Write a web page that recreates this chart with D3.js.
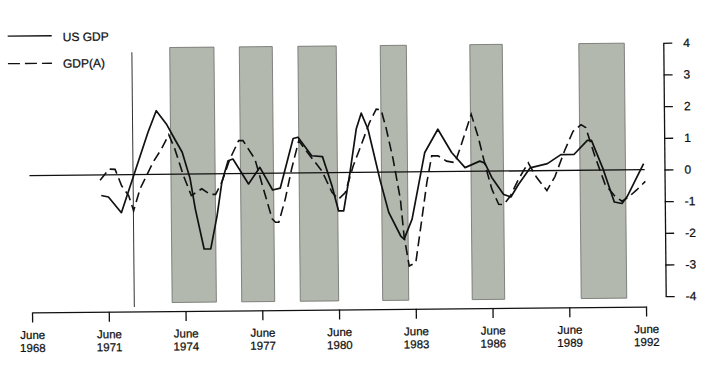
<!DOCTYPE html>
<html>
<head>
<meta charset="utf-8">
<script src="https://cdn.jsdelivr.net/npm/d3@7"></script>
<style>
    body { margin: 0; background: #fff; }
    svg { display: block; font-family: "Liberation Sans", Arial, Helvetica, sans-serif; }
    svg text { fill: #111; stroke: #111; stroke-width: 0.25px; }
</style>
</head>
<body>
<svg id="chart"></svg>
<script>
// Tick labels (June of each year) and value ticks
const tickYears = [1968, 1971, 1974, 1977, 1980, 1983, 1986, 1989, 1992];
const yTicks = [-4, -3, -2, -1, 0, 1, 2, 3, 4];

// Shaded periods (decimal years)
const bandStart = [1973.98, 1976.70, 1978.99, 1982.21, 1985.71, 1989.97];
const bandEnd = [1975.71, 1977.99, 1980.49, 1983.23, 1986.98, 1991.75];

// Vertical marker line
const markerYear = 1972.5;

// US GDP (solid line)
const gdpYears = [1971.25, 1971.53, 1972.03, 1973.10, 1973.43, 1973.82, 1974.14, 1974.43, 1974.73, 1974.92,
    1975.25, 1975.51, 1975.77, 1975.97, 1976.22, 1976.41, 1977.01, 1977.46, 1977.95, 1978.25,
    1978.77, 1978.96, 1979.49, 1979.91, 1980.27, 1980.52, 1980.72, 1980.98, 1981.24, 1981.44,
    1981.70, 1982.16, 1982.48, 1982.94, 1983.07, 1983.39, 1983.91, 1984.43, 1984.96, 1985.48,
    1986.06, 1986.26, 1986.52, 1986.98, 1987.26, 1987.56, 1988.02, 1988.70, 1989.23, 1989.74,
    1990.27, 1990.43, 1990.88, 1991.30, 1991.60, 1991.80, 1992.46];
const gdpValues = [-0.65, -0.70, -1.20, 1.33, 2.01, 1.59, 1.11, 0.69, -0.15, -1.10,
    -2.37, -2.37, -1.32, -0.26, 0.41, 0.46, -0.33, 0.19, -0.53, -0.47,
    1.09, 1.13, 0.54, 0.51, -0.41, -1.21, -1.21, 0.00, 1.37, 1.87,
    1.36, -0.27, -1.27, -2.02, -2.12, -1.49, 0.61, 1.34, 0.60, 0.12,
    0.32, 0.25, -0.20, -0.74, -0.82, -0.43, 0.09, 0.22, 0.50, 0.50,
    0.94, 0.94, 0.02, -1.01, -1.06, -0.85, 0.19];

// GDP(A) (dashed line)
const gdpAYears = [1971.21, 1971.56, 1971.80, 1972.05, 1972.32, 1972.51, 1972.77, 1973.03, 1973.29, 1973.62,
    1973.91, 1974.14, 1974.47, 1974.77, 1975.18, 1975.51, 1975.72, 1975.97, 1976.29, 1976.64,
    1976.81, 1977.27, 1977.59, 1977.92, 1978.05, 1978.18, 1978.44, 1978.70, 1978.99, 1979.35,
    1979.88, 1980.27, 1980.52, 1980.79, 1981.11, 1981.44, 1981.76, 1982.03, 1982.22, 1982.42,
    1982.67, 1982.94, 1983.07, 1983.26, 1983.52, 1983.79, 1983.98, 1984.18, 1984.43, 1984.76,
    1985.09, 1985.28, 1985.74, 1986.00, 1986.26, 1986.52, 1986.78, 1986.98, 1987.24, 1987.56,
    1987.95, 1988.27, 1988.67, 1988.99, 1989.38, 1989.71, 1990.03, 1990.21, 1990.56, 1990.95,
    1991.32, 1991.60, 1991.86, 1992.19, 1992.52];
const gdpAValues = [-0.17, 0.18, 0.17, -0.35, -0.66, -1.14, -0.45, -0.03, 0.39, 0.80,
    1.25, 0.80, -0.05, -0.68, -0.47, -0.65, -0.65, -0.26, 0.46, 1.04,
    1.04, 0.45, -0.49, -1.44, -1.55, -1.55, -0.82, 0.13, 1.02, 0.62,
    0.06, -0.62, -0.84, -0.63, 0.21, 0.89, 1.57, 1.99, 1.97, 1.35,
    0.41, -0.86, -2.02, -2.97, -2.86, -1.39, -0.34, 0.50, 0.50, 0.33,
    0.28, 0.70, 1.80, 1.10, 0.21, -0.57, -1.05, -1.06, -0.79, -0.27,
    0.25, -0.21, -0.63, -0.19, 0.63, 1.23, 1.44, 1.35, 0.44, -0.46,
    -0.82, -0.99, -0.86, -0.63, -0.37];

// Chart dimensions
const width = 711;
const height = 371;

const svg = d3.select("#chart")
    .attr("width", width)
    .attr("height", height);

// the original is a slightly skewed scan, so tilt everything a little
const g = svg.append("g")
    .attr("transform", "rotate(-0.55, 340, 172)");

// Scales (x in decimal years, June = .5)
const xScale = d3.scaleLinear()
    .domain([1968.5, 1992.5])
    .range([30.7, 644.7]);

const yScale = d3.scaleLinear()
    .domain([-4, 4])
    .range([299.3, 45.9]);

// Shaded bands
g.selectAll(".band")
    .data(d3.zip(bandStart, bandEnd))
    .enter()
    .append("rect")
    .attr("class", "band")
    .attr("x", d => xScale(d[0]))
    .attr("width", d => xScale(d[1]) - xScale(d[0]))
    .attr("y", yScale(4))
    .attr("height", yScale(-4.05) - yScale(4))
    .style("fill", "#b2b8ae")
    .style("stroke", "#6a6d68")
    .style("stroke-width", 0.8);

// Vertical marker
g.append("line")
    .attr("x1", xScale(markerYear))
    .attr("x2", xScale(markerYear))
    .attr("y1", yScale(3.86))
    .attr("y2", yScale(-4.18))
    .style("stroke", "#333")
    .style("stroke-width", 1);

// Zero line
g.append("line")
    .attr("x1", xScale(1968.45))
    .attr("x2", xScale(1992.5))
    .attr("y1", yScale(0))
    .attr("y2", yScale(0))
    .style("stroke", "#111")
    .style("stroke-width", 1.3);

// Series lines
const line = d3.line()
    .x(d => xScale(d[0]))
    .y(d => yScale(d[1]));

g.append("path")
    .datum(d3.zip(gdpAYears, gdpAValues))
    .attr("d", line)
    .style("fill", "none")
    .style("stroke", "#111")
    .style("stroke-width", 1.6)
    .style("stroke-dasharray", "10,5");

g.append("path")
    .datum(d3.zip(gdpYears, gdpValues))
    .attr("d", line)
    .style("fill", "none")
    .style("stroke", "#111")
    .style("stroke-width", 1.7)
    .style("stroke-linejoin", "round");

// X-Axis
const xAxis = d3.axisBottom(xScale)
    .tickValues(tickYears.map(t => t + 0.5))
    .tickSize(10)
    .tickSizeOuter(0)
    .tickFormat("");

const xg = g.append("g")
    .attr("transform", "translate(0, 309.5)")
    .call(xAxis)
    .attr("font-family", null)
    .attr("font-size", null);

xg.selectAll("path, line").style("stroke", "#111").style("stroke-width", 1.3);
xg.selectAll(".tick text").remove();
xg.selectAll(".tick").each(function (d) {
    const t = d3.select(this).append("text")
        .attr("text-anchor", "middle")
        .style("font-size", "11.5px");
    t.append("tspan").attr("x", 0).attr("y", 26.5).text("June");
    t.append("tspan").attr("x", 0).attr("y", 39.5).text(Math.floor(d));
});

// Y-Axis (right side)
const yAxis = d3.axisRight(yScale)
    .tickValues(yTicks)
    .tickSize(9)
    .tickPadding(11)
    .tickSizeOuter(0)
    .tickFormat(d => String(d));

const yg = g.append("g")
    .attr("transform", "translate(664.5, 0)")
    .call(yAxis)
    .attr("font-family", null)
    .attr("font-size", null);

yg.selectAll("path, line").style("stroke", "#111").style("stroke-width", 1.3);
yg.selectAll("text").style("font-size", "12px");

// Legend
const legend = g.append("g");
legend.append("line")
    .attr("x1", 9).attr("x2", 53)
    .attr("y1", 33).attr("y2", 33)
    .style("stroke", "#111")
    .style("stroke-width", 1.3);
legend.append("text")
    .attr("x", 64).attr("y", 38.5)
    .style("font-size", "12px")
    .text("US GDP");
legend.append("line")
    .attr("x1", 9).attr("x2", 53)
    .attr("y1", 60.5).attr("y2", 60.5)
    .style("stroke", "#111")
    .style("stroke-width", 1.3)
    .style("stroke-dasharray", "12,5");
legend.append("text")
    .attr("x", 64).attr("y", 65)
    .style("font-size", "12px")
    .text("GDP(A)");
</script>
</body>
</html>
